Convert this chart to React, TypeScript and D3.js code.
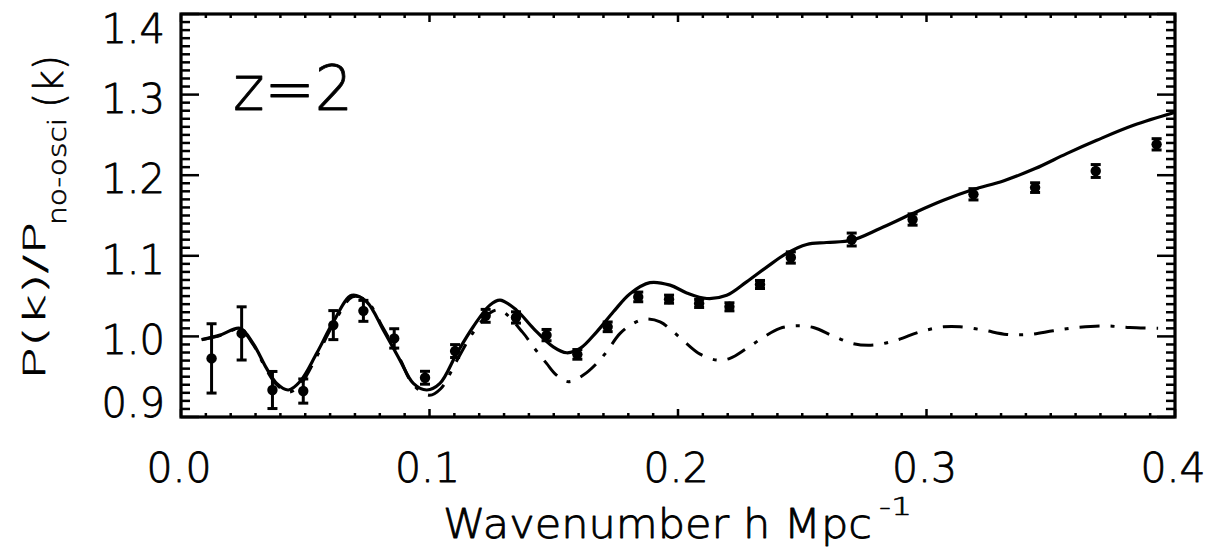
import React from "react";
import * as d3 from "d3";

// ---- data ----
const pointK = [0.0123, 0.0244, 0.0368, 0.0492, 0.0613, 0.0734, 0.0858, 0.0982, 0.1103, 0.1226, 0.1348, 0.1471, 0.1595, 0.1717, 0.184, 0.1964, 0.2085, 0.2207, 0.233, 0.2454, 0.2699, 0.2944, 0.3189, 0.3437, 0.3681, 0.3926];
const pointV = [0.9727, 1.0037, 0.9335, 0.9322, 1.014, 1.0317, 0.9975, 0.9487, 0.9818, 1.0255, 1.0235, 1.0016, 0.9777, 1.0119, 1.049, 1.0462, 1.0409, 1.0367, 1.0644, 1.0979, 1.1202, 1.145, 1.1763, 1.1846, 1.2052, 1.2383];
const pointErr = [0.043, 0.033, 0.023, 0.015, 0.018, 0.013, 0.012, 0.008, 0.008, 0.008, 0.007, 0.007, 0.006, 0.006, 0.006, 0.005, 0.005, 0.005, 0.005, 0.007, 0.008, 0.007, 0.007, 0.006, 0.008, 0.007];

const solidK = [0.0083, 0.0157, 0.0237, 0.029, 0.0345, 0.0385, 0.0432, 0.0479, 0.0546, 0.0613, 0.0687, 0.0747, 0.0814, 0.0881, 0.0935, 0.0989, 0.1042, 0.111, 0.1176, 0.1243, 0.1284, 0.135, 0.1418, 0.1498, 0.1552, 0.1606, 0.1673, 0.174, 0.1807, 0.1887, 0.1968, 0.2035, 0.2116, 0.2196, 0.2276, 0.2357, 0.2437, 0.2518, 0.2598, 0.2699, 0.2813, 0.2944, 0.3068, 0.3188, 0.3309, 0.3437, 0.3564, 0.3685, 0.3833, 0.4];
const solidV = [0.996, 1.0016, 1.01, 0.9913, 0.96, 0.9417, 0.9335, 0.944, 0.979, 1.018, 1.051, 1.043, 1.008, 0.9706, 0.9417, 0.9335, 0.9417, 0.979, 1.012, 1.0388, 1.045, 1.0326, 1.01, 0.987, 0.9797, 0.985, 1.0057, 1.0305, 1.053, 1.0667, 1.0636, 1.054, 1.047, 1.051, 1.0677, 1.086, 1.1029, 1.114, 1.1165, 1.1193, 1.1338, 1.1524, 1.1689, 1.1822, 1.1929, 1.2082, 1.2268, 1.2433, 1.2619, 1.278];

const dashK = [0.0083, 0.0157, 0.0237, 0.029, 0.0345, 0.0385, 0.0435, 0.048, 0.0546, 0.0613, 0.069, 0.0747, 0.0814, 0.0881, 0.0935, 0.1, 0.1045, 0.111, 0.1176, 0.1243, 0.1284, 0.1375, 0.1418, 0.1471, 0.1511, 0.1559, 0.1619, 0.1673, 0.1713, 0.1767, 0.182, 0.1867, 0.1928, 0.1981, 0.2035, 0.2089, 0.2156, 0.2209, 0.2276, 0.2343, 0.241, 0.2478, 0.2545, 0.2625, 0.2705, 0.2786, 0.288, 0.2974, 0.3068, 0.3135, 0.3229, 0.3323, 0.3417, 0.351, 0.3604, 0.3711, 0.3818, 0.3932];
const dashV = [0.996, 1.001, 1.009, 0.99, 0.958, 0.94, 0.931, 0.94, 0.975, 1.015, 1.049, 1.044, 1.01, 0.972, 0.94, 0.927, 0.935, 0.97, 1.005, 1.029, 1.0326, 1.005, 0.987, 0.9665, 0.952, 0.9438, 0.952, 0.9665, 0.981, 1.0037, 1.016, 1.0214, 1.018, 1.0057, 0.991, 0.978, 0.9706, 0.9727, 0.985, 0.9988, 1.01, 1.0131, 1.011, 1.0004, 0.991, 0.9892, 0.9954, 1.0057, 1.0119, 1.012, 1.0078, 1.0025, 1.0025, 1.007, 1.011, 1.0131, 1.011, 1.01];

const xTickValues = [0, 0.1, 0.2, 0.3, 0.4];
const xTickLabels = ["0.0", "0.1", "0.2", "0.3", "0.4"];
const yTickValues = [0.9, 1.0, 1.1, 1.2, 1.3, 1.4];
const yTickLabels = ["0.9", "1.0", "1.1", "1.2", "1.3", "1.4"];

const W = 1214;
const H = 547;
const L = 181, R = 1175, T = 14, B = 417;
const FONT = "'DejaVu Sans', sans-serif";

export default function App() {
  const x = d3.scaleLinear().domain([0, 0.4]).range([L, R]);
  const y = d3.scaleLinear().domain([0.9, 1.4]).range([B, T]);

  const xMinor = x.ticks(40);
  const yMinor = y.ticks(50);

  const line = d3
    .line<[number, number]>()
    .x((d) => x(d[0]))
    .y((d) => y(d[1]))
    .curve(d3.curveCatmullRom.alpha(0.5));

  const solidPath = line(solidK.map((k, i) => [k, solidV[i]]) as [number, number][]) || "";
  const dashPath = line(dashK.map((k, i) => [k, dashV[i]]) as [number, number][]) || "";

  const tickStroke = 2.5;

  return (
    <svg
      width={W}
      height={H}
      style={{ position: "absolute", left: 0, top: 0, background: "#fff" }}
      fontFamily={FONT}
    >
      <rect x={0} y={0} width={W} height={H} fill="#fff" />
      <defs>
        <clipPath id="plotclip">
          <rect x={L} y={T} width={R - L} height={B - T} />
        </clipPath>
      </defs>

      {/* curves */}
      <g clipPath="url(#plotclip)" fill="none" stroke="#000">
        <path d={dashPath} strokeWidth={3} strokeDasharray="20,11,4,11" />
        <path d={solidPath} strokeWidth={3.2} />
      </g>

      {/* data points */}
      <g stroke="#000" fill="#000">
        {pointK.map((k, i) => {
          const cx = x(k);
          const yt = y(pointV[i] + pointErr[i]);
          const yb = y(pointV[i] - pointErr[i]);
          return (
            <g key={i}>
              <line x1={cx} x2={cx} y1={yt} y2={yb} strokeWidth={3} />
              <line x1={cx - 5} x2={cx + 5} y1={yt} y2={yt} strokeWidth={3} />
              <line x1={cx - 5} x2={cx + 5} y1={yb} y2={yb} strokeWidth={3} />
              <circle cx={cx} cy={y(pointV[i])} r={5.2} stroke="none" />
            </g>
          );
        })}
      </g>

      {/* ticks */}
      <g stroke="#000" strokeWidth={tickStroke}>
        {xMinor.map((v, i) => {
          const major = xTickValues.some((m) => Math.abs(m - v) < 1e-9);
          const len = major ? 8 : 4;
          return (
            <g key={"xm" + i}>
              <line x1={x(v)} x2={x(v)} y1={B} y2={B - len} />
              <line x1={x(v)} x2={x(v)} y1={T} y2={T + len} />
            </g>
          );
        })}
        {yMinor.map((v, i) => {
          const major = yTickValues.some((m) => Math.abs(m - v) < 1e-9);
          const len = major ? 18 : 9;
          return (
            <g key={"ym" + i}>
              <line x1={L} x2={L + len} y1={y(v)} y2={y(v)} />
              <line x1={R} x2={R - len} y1={y(v)} y2={y(v)} />
            </g>
          );
        })}
      </g>

      {/* frame */}
      <rect x={L} y={T} width={R - L} height={B - T} fill="none" stroke="#000" strokeWidth={3.2} />

      <g fill="#000" fontWeight={200} stroke="#000" strokeLinejoin="round">
        {/* x tick labels */}
        <g fontSize={41} textAnchor="middle" strokeWidth={0.8}>
          {xTickValues.map((v, i) => (
            <text key={"xl" + i} x={x(v) - 2} y={482}>
              {xTickLabels[i]}
            </text>
          ))}
        </g>

        {/* y tick labels */}
        <g fontSize={40} textAnchor="end" strokeWidth={0.8}>
          {yTickValues.map((v, i) => {
            const off = i === 0 ? 0 : i === yTickValues.length - 1 ? 29 : 18;
            return (
              <text key={"yl" + i} x={165} y={y(v) + off}>
                {yTickLabels[i]}
              </text>
            );
          })}
        </g>

        {/* x axis title */}
        <text x={443} y={538} fontSize={41} strokeWidth={0.8} textLength={429} lengthAdjust="spacingAndGlyphs">
          Wavenumber h Mpc
        </text>
        <text x={879} y={515} fontSize={24} strokeWidth={0.6} textLength={33} lengthAdjust="spacingAndGlyphs">
          -1
        </text>

        {/* y axis title */}
        <text
          transform="translate(45,301) rotate(-90)"
          fontSize={30}
          strokeWidth={0.6}
          textAnchor="middle"
          textLength={158}
          lengthAdjust="spacingAndGlyphs"
        >
          P(k)/P
        </text>
        <text
          transform="translate(66,171.5) rotate(-90)"
          fontSize={25}
          strokeWidth={0.6}
          textAnchor="middle"
          textLength={107}
          lengthAdjust="spacingAndGlyphs"
        >
          no-osci
        </text>
        <text
          transform="translate(63,81.5) rotate(-90)"
          fontSize={40}
          strokeWidth={0.7}
          textAnchor="middle"
          textLength={53}
          lengthAdjust="spacingAndGlyphs"
        >
          (k)
        </text>

        {/* annotation */}
        <text x={233} y={110} fontSize={62} strokeWidth={0.8} textLength={120} lengthAdjust="spacingAndGlyphs">
          z=2
        </text>
      </g>
    </svg>
  );
}
